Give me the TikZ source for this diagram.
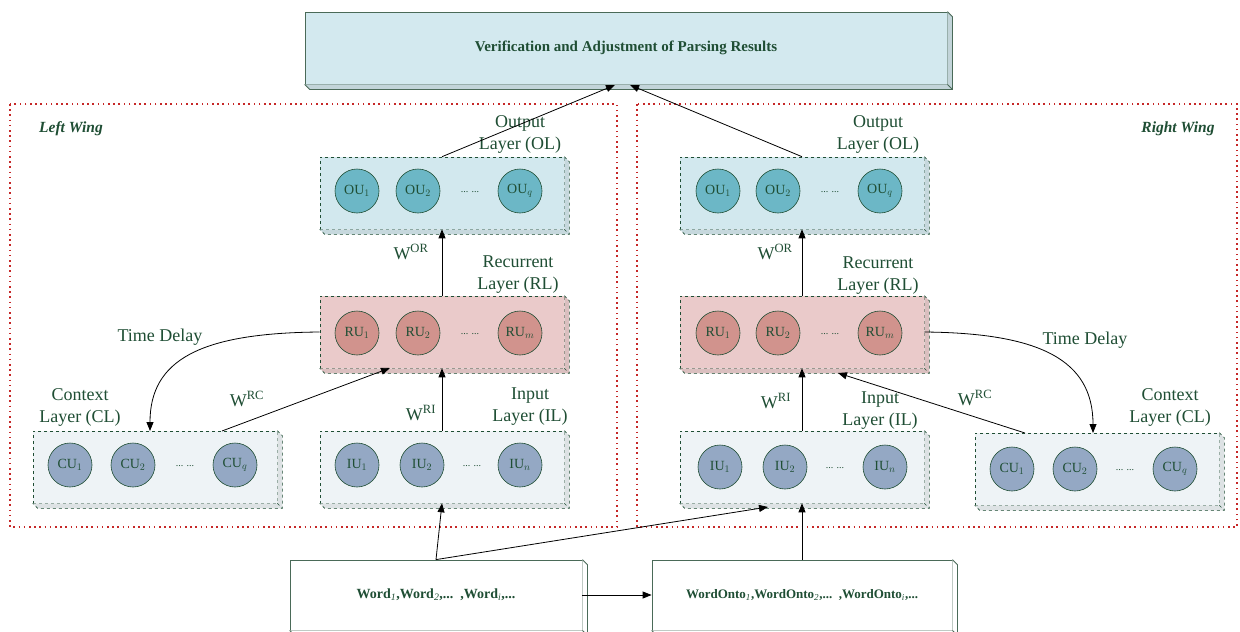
\documentclass[tikz,border=0pt]{standalone}
\usepackage{fontspec}
\setmainfont{Liberation Serif}
\usetikzlibrary{arrows.meta}
\definecolor{dkg}{HTML}{1F4E34}
\definecolor{edge}{HTML}{4A6A58}
\definecolor{topfill}{HTML}{D3E9EF}
\definecolor{olfill}{HTML}{D2E8EE}
\definecolor{olcirc}{HTML}{6CB7C6}
\definecolor{rlfill}{HTML}{EACACA}
\definecolor{rlcirc}{HTML}{D1938D}
\definecolor{ilfill}{HTML}{EEF3F6}
\definecolor{ilcirc}{HTML}{94A8C4}
\definecolor{wingred}{HTML}{C62828}
\tikzset{
  lbox/.style={draw=dkg, dashed, line width=0.6pt, minimum width=244pt, minimum height=72pt, inner sep=0pt},
  unit/.style={circle, draw=dkg, line width=0.6pt, minimum size=44pt, inner sep=0pt, font=\fontsize{14}{16}\selectfont, text=dkg},
  lbl/.style={text=dkg, font=\fontsize{18}{22}\selectfont, align=center, inner sep=1pt},
  dots/.style={text=dkg, font=\fontsize{10}{12}\selectfont},
  arr/.style={-{Triangle[length=9pt,width=7pt]}, line width=0.8pt, black},
  wing/.style={draw=wingred, line width=1.6pt, dash pattern=on 1.6pt off 3.6pt},
  wtitle/.style={text=dkg, font=\fontsize{15.5}{17}\selectfont\bfseries\itshape},
  sbox/.style={draw=edge, line width=0.8pt, inner sep=0pt},
}
\newcommand\extr[3]{%
  \fill[#2] (#1.north east) -- ++(5,5) -- ([shift={(5,5)}]#1.south east) -- ([shift={(5,5)}]#1.south west) -- (#1.south west) -- (#1.south east) -- cycle;
  \draw[#3] (#1.north east) -- ++(5,5) -- ([shift={(5,5)}]#1.south east) -- ([shift={(5,5)}]#1.south west) -- (#1.south west);
  \draw[#3] (#1.south east) -- ++(5,5);}
\begin{document}
\begin{tikzpicture}[x=1pt,y=-1pt]
\useasboundingbox (0,0) rectangle (1240,632);
\fill[white] (0,0) rectangle (1240,632);

% wings
\draw[wing] (10,104) rectangle (617,527);
\draw[wing] (637,104) rectangle (1237,527);
\node[wtitle] (lw) at (71,129) {Left Wing};
\node[wtitle] (rw) at (1178,129) {Right Wing};

% top box
\node[sbox, fill=topfill, minimum width=642pt, minimum height=72pt, text=dkg, font=\fontsize{15}{17}\selectfont\bfseries] (ver) at (626,48) {Verification and Adjustment of Parsing Results};
\extr{ver}{topfill!80!gray}{draw=edge, line width=0.8pt}

% ---------- left wing ----------
\node[lbox, fill=olfill] (lol) at (442,193) {};
\extr{lol}{olfill!85!gray}{draw=dkg, dashed, line width=0.6pt}
\node[unit, fill=olcirc] (lo1) at (357,191) {OU$_1$};
\node[unit, fill=olcirc] (lo2) at (418,191) {OU$_2$};
\node[unit, fill=olcirc] (loq) at (520,191) {OU$_q$};
\node[dots] (lod) at (470,192) {... ...};

\node[lbox, fill=rlfill] (lrl) at (442,332) {};
\extr{lrl}{rlfill!85!gray}{draw=dkg, dashed, line width=0.6pt}
\node[unit, fill=rlcirc] (lr1) at (357,333) {RU$_1$};
\node[unit, fill=rlcirc] (lr2) at (418,333) {RU$_2$};
\node[unit, fill=rlcirc] (lrm) at (520,333) {RU$_m$};
\node[dots] (lrd) at (470,334) {... ...};

\node[lbox, fill=ilfill] (lil) at (442,467) {};
\extr{lil}{ilfill!85!gray}{draw=dkg, dashed, line width=0.6pt}
\node[unit, fill=ilcirc] (li1) at (357,465) {IU$_1$};
\node[unit, fill=ilcirc] (li2) at (422,465) {IU$_2$};
\node[unit, fill=ilcirc] (lin) at (520,465) {IU$_n$};
\node[dots] (lid) at (472,466) {... ...};

\node[lbox, fill=ilfill] (lcl) at (155,467) {};
\extr{lcl}{ilfill!85!gray}{draw=dkg, dashed, line width=0.6pt}
\node[unit, fill=ilcirc] (lc1) at (70,465) {CU$_1$};
\node[unit, fill=ilcirc] (lc2) at (133,465) {CU$_2$};
\node[unit, fill=ilcirc] (lcq) at (235,465) {CU$_q$};
\node[dots] (lcd) at (185,466) {... ...};

\node[lbl] (lolt) at (520,134) {Output\\Layer (OL)};
\node[lbl] (lrlt) at (518,275) {Recurrent\\Layer (RL)};
\node[lbl] (lilt) at (530,407) {Input\\Layer (IL)};
\node[lbl] (lclt) at (80,407) {Context\\Layer (CL)};
\node[lbl] (lwor) at (411,252) {W$^{\mathrm{OR}}$};
\node[lbl] (lwrc) at (247,399) {W$^{\mathrm{RC}}$};
\node[lbl] (lwri) at (421,413) {W$^{\mathrm{RI}}$};
\node[lbl] (ltd) at (160,337) {Time Delay};

% ---------- right wing ----------
\node[lbox, fill=olfill] (rol) at (802,193) {};
\extr{rol}{olfill!85!gray}{draw=dkg, dashed, line width=0.6pt}
\node[unit, fill=olcirc] (ro1) at (718,191) {OU$_1$};
\node[unit, fill=olcirc] (ro2) at (778,191) {OU$_2$};
\node[unit, fill=olcirc] (roq) at (880,191) {OU$_q$};
\node[dots] (rod) at (830,192) {... ...};

\node[lbox, fill=rlfill] (rrl) at (802,332) {};
\extr{rrl}{rlfill!85!gray}{draw=dkg, dashed, line width=0.6pt}
\node[unit, fill=rlcirc] (rr1) at (718,333) {RU$_1$};
\node[unit, fill=rlcirc] (rr2) at (778,333) {RU$_2$};
\node[unit, fill=rlcirc] (rrm) at (880,333) {RU$_m$};
\node[dots] (rrd) at (830,334) {... ...};

\node[lbox, fill=ilfill] (ril) at (802,467) {};
\extr{ril}{ilfill!85!gray}{draw=dkg, dashed, line width=0.6pt}
\node[unit, fill=ilcirc] (ri1) at (720,467) {IU$_1$};
\node[unit, fill=ilcirc] (ri2) at (785,467) {IU$_2$};
\node[unit, fill=ilcirc] (rin) at (885,467) {IU$_n$};
\node[dots] (rid) at (835,468) {... ...};

\node[lbox, fill=ilfill] (rcl) at (1097,469) {};
\extr{rcl}{ilfill!85!gray}{draw=dkg, dashed, line width=0.6pt}
\node[unit, fill=ilcirc] (rc1) at (1012,469) {CU$_1$};
\node[unit, fill=ilcirc] (rc2) at (1075,469) {CU$_2$};
\node[unit, fill=ilcirc] (rcq) at (1175,469) {CU$_q$};
\node[dots] (rcd) at (1125,470) {... ...};

\node[lbl] (rolt) at (878,134) {Output\\Layer (OL)};
\node[lbl] (rrlt) at (878,276) {Recurrent\\Layer (RL)};
\node[lbl] (rilt) at (880,411) {Input\\Layer (IL)};
\node[lbl] (rclt) at (1170,407) {Context\\Layer (CL)};
\node[lbl] (rwor) at (775,252) {W$^{\mathrm{OR}}$};
\node[lbl] (rwrc) at (975,398) {W$^{\mathrm{RC}}$};
\node[lbl] (rwri) at (776,401) {W$^{\mathrm{RI}}$};
\node[lbl] (rtd) at (1085,340) {Time Delay};

% ---------- bottom boxes ----------
\node[sbox, fill=white, minimum width=292pt, minimum height=70pt, text=dkg, font=\fontsize{14}{16}\selectfont\bfseries] (word) at (436,595) {Word$_{\mathit{1}}$,Word$_{\mathit{2}}$,...\ \ ,Word$_{\mathit{i}}$,...};
\extr{word}{white}{draw=edge, line width=0.8pt}
\node[sbox, fill=white, minimum width=300pt, minimum height=70pt, text=dkg, font=\fontsize{13}{15}\selectfont\bfseries] (onto) at (802,595) {WordOnto$_{\mathit{1}}$,WordOnto$_{\mathit{2}}$,...\ \ ,WordOnto$_{\mathit{i}}$,...};
\extr{onto}{white}{draw=edge, line width=0.8pt}

% ---------- connectors ----------
\coordinate (verL) at (615,85);
\coordinate (verR) at (630,85);
\draw[arr] (lol.north) -- (verL);
\draw[arr] (rol.north) -- (verR);

\draw[arr] (lrl.north) -- (lol.south);
\draw[arr] (lil.north) -- (lrl.south);
\coordinate (lclTop) at (222,431);
\coordinate (lrlIn) at (390,368);
\draw[arr] (lclTop) -- (lrlIn);
\coordinate (lclTD) at (150,431);
\draw[arr] (lrl.west) .. controls (200,333) and (150,360) .. (lclTD);

\draw[arr] (rrl.north) -- (rol.south);
\draw[arr] (ril.north) -- (rrl.south);
\coordinate (rclTop) at (1025,433);
\coordinate (rrlIn) at (838,373);
\draw[arr] (rclTop) -- (rrlIn);
\coordinate (rclTD) at (1093,433);
\draw[arr] (rrl.east) .. controls (1040,333) and (1093,360) .. (rclTD);

\draw[arr] (word.north) -- (lil.south);
\coordinate (rilIn) at (768,507);
\draw[arr] (word.north) -- (rilIn);
\draw[arr] (word.east) -- (onto.west);
\draw[arr] (onto.north) -- (ril.south);
\end{tikzpicture}
\end{document}
